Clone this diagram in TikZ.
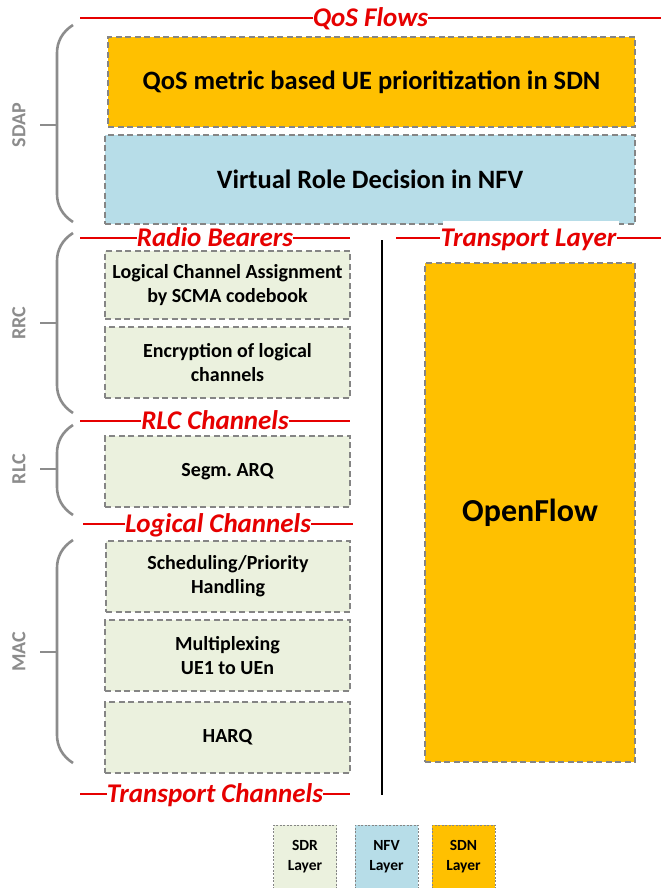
\documentclass[tikz,border=0pt]{standalone}
\usepackage{fontspec}
\setmainfont{Carlito}
\definecolor{sdnc}{HTML}{FFC000}
\definecolor{nfvc}{HTML}{B7DDE8}
\definecolor{sdrc}{HTML}{EBF1DE}
\definecolor{bordc}{HTML}{858585}
\definecolor{redc}{HTML}{E60000}
\definecolor{grayc}{HTML}{8C8C8C}
\tikzset{
  box/.style={draw=bordc, line width=1.6pt, dash pattern=on 6pt off 3.5pt,
    align=center, inner sep=0pt, font=\bfseries\fontsize{20}{24}\selectfont},
  bigbox/.style={box, font=\bfseries\fontsize{26.5}{30}\selectfont},
  legendbox/.style={draw=bordc, line width=0.9pt, dash pattern=on 2pt off 1.5pt,
    align=center, inner sep=0pt, minimum width=63pt, minimum height=64pt,
    font=\bfseries\fontsize{15.5}{20}\selectfont},
  flowlabel/.style={text=redc, inner sep=0pt, anchor=base,
    font=\bfseries\itshape\fontsize{27}{30}\selectfont},
  redline/.style={draw=redc, line width=2.2pt},
  bracestyle/.style={draw=grayc, line width=2.6pt},
  sidelabel/.style={text=grayc, rotate=90, inner sep=0pt,
    font=\bfseries\fontsize{20}{22}\selectfont},
}
% bracket spanning a protocol layer: top, bottom, middle, label, name
\newcommand\layerbrace[5]{%
  \draw[bracestyle] (73,#1) .. controls (62,{#1+7}) and (57,{#1+17}) .. (57,{#1+28})
    -- (57,{#2-28}) .. controls (57,{#2-17}) and (62,{#2-7}) .. (73,#2);
  \draw[bracestyle] (40,#3) -- (57,#3);
  \node[sidelabel] (#5) at (19,#3) {#4};
}
% red channel label with a line on each side
\newcommand\flowline[5]{% name, left x, right x, y, text
  \coordinate (#1L) at (#2,#4);
  \coordinate (#1R) at (#3,#4);
  \node[flowlabel] (#1) at ({(#2+#3)/2},{#4+8.5}) {#5};
  \draw[redline] (#1L) -- (#1.west |- #1L);
  \draw[redline] (#1.east |- #1R) -- (#1R);
}
\begin{document}
\begin{tikzpicture}[x=1pt,y=-1pt]
\path[use as bounding box, clip] (0,0) rectangle (661,888);
\fill[white] (0,0) rectangle (661,888);

% SDAP boxes
\node[bigbox, fill=sdnc, minimum width=527pt, minimum height=90pt] (qosbox) at (371.5,82)
  {QoS metric based UE prioritization in SDN};
\node[bigbox, fill=nfvc, minimum width=530pt, minimum height=89pt] (vrbox) at (370,179.5)
  {Virtual Role Decision in NFV};

% SDR function boxes
\node[box, fill=sdrc, minimum width=245pt, minimum height=68pt] (lca) at (227.5,285)
  {Logical Channel Assignment\\by SCMA codebook};
\node[box, fill=sdrc, minimum width=245pt, minimum height=71pt] (enc) at (227.5,362.5)
  {Encryption of logical\\channels};
\node[box, fill=sdrc, minimum width=245pt, minimum height=71pt] (seg) at (227.5,471.5)
  {Segm.\ ARQ};
\node[box, fill=sdrc, minimum width=244pt, minimum height=71pt] (sched) at (228,576.5)
  {Scheduling/Priority\\Handling};
\node[box, fill=sdrc, minimum width=245pt, minimum height=71pt] (mux) at (227.5,655.5)
  {Multiplexing\\UE1 to UEn};
\node[box, fill=sdrc, minimum width=245pt, minimum height=71pt] (harq) at (227.5,737.5)
  {HARQ};

% SDN column
\node[box, fill=sdnc, minimum width=210pt, minimum height=499pt,
  font=\bfseries\fontsize{32}{36}\selectfont] (openflow) at (530,512.5) {OpenFlow};

% separator between the stacks
\coordinate (vtop) at (382,240);
\coordinate (vbot) at (382,795);
\draw[line width=1.8pt] (vtop) -- (vbot);

% channel labels
\flowline{qos}{80}{661}{18}{QoS Flows}
\flowline{rb}{80}{350}{238}{Radio Bearers}
\fill[white] (443,221) rectangle (619,256);
\flowline{tl}{396}{661}{238}{Transport Layer}
\flowline{rlc}{80}{350}{421}{RLC Channels}
\flowline{lc}{83}{353}{524}{Logical Channels}
\flowline{tc}{80}{350}{794}{Transport Channels}

% protocol layer brackets
\layerbrace{25}{222}{125}{SDAP}{sdap}
\layerbrace{233}{413}{323}{RRC}{rrc}
\layerbrace{425}{515}{469}{RLC}{rlcl}
\layerbrace{540}{763}{652}{MAC}{mac}

% legend
\node[legendbox, fill=sdrc] (legsdr) at (305,857) {SDR\\Layer};
\node[legendbox, fill=nfvc] (legnfv) at (386.5,857) {NFV\\Layer};
\node[legendbox, fill=sdnc] (legsdn) at (463.5,857) {SDN\\Layer};
\end{tikzpicture}
\end{document}
